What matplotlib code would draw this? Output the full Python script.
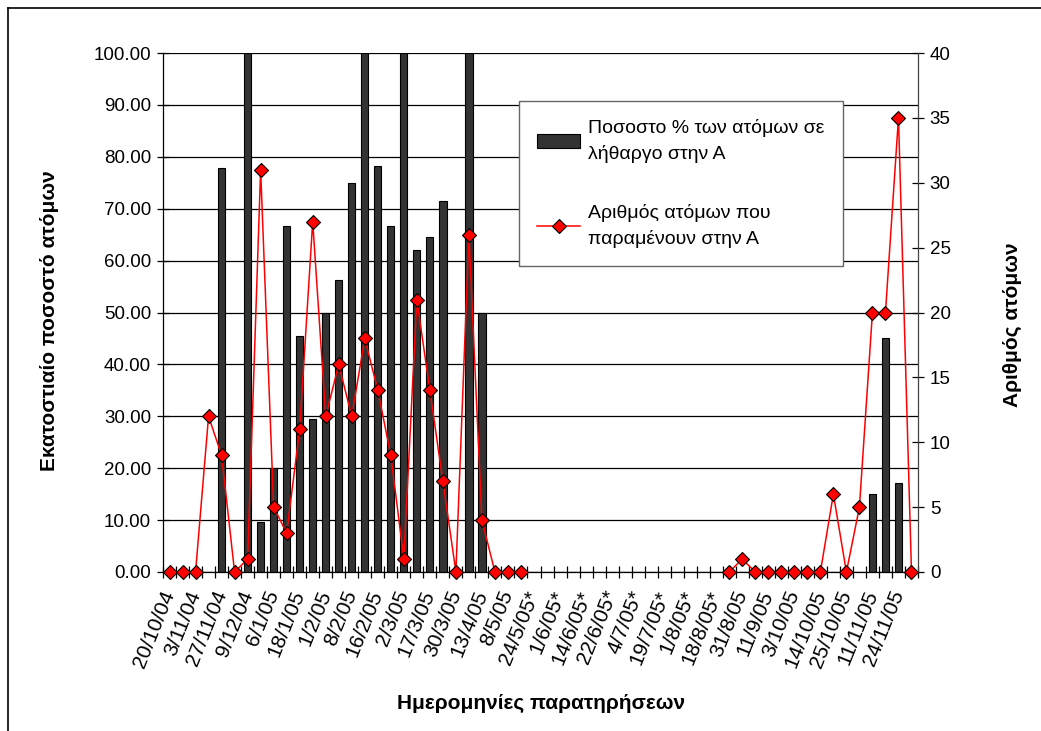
import numpy as np
import matplotlib.pyplot as plt
from matplotlib.lines import Line2D

plt.rcParams['font.family'] = ['Liberation Sans', 'DejaVu Sans']

nan = np.nan

# percentage of individuals in lethargy (left axis), one value per observation slot
percent_lethargy = [
    0, 0, 0, 0, 77.78, 0, 100, 9.68, 20, 66.67,
    45.45, 29.41, 50, 56.25, 75, 100, 78.26, 66.67, 100, 62,
    64.5, 71.43, 0, 100, 50, 0, 0, 0, nan, nan,
    nan, nan, nan, nan, nan, nan, nan, nan, nan, nan,
    nan, nan, nan, 0, 0, 0, 0, 0, 0, 0,
    0, 0, 0, 0, 15, 45, 17.14, 0,
]

# number of individuals remaining (right axis)
count_remaining = [
    0, 0, 0, 12, 9, 0, 1, 31, 5, 3,
    11, 27, 12, 16, 12, 18, 14, 9, 1, 21,
    14, 7, 0, 26, 4, 0, 0, 0, nan, nan,
    nan, nan, nan, nan, nan, nan, nan, nan, nan, nan,
    nan, nan, nan, 0, 1, 0, 0, 0, 0, 0,
    0, 6, 0, 5, 20, 20, 35, 0,
]

# dates shown under every second slot
date_labels = [
    '20/10/04', '3/11/04', '27/11/04', '9/12/04', '6/1/05', '18/1/05',
    '1/2/05', '8/2/05', '16/2/05', '2/3/05', '17/3/05', '30/3/05',
    '13/4/05', '8/5/05', '24/5/05*', '1/6/05*', '14/6/05*', '22/6/05*',
    '4/7/05*', '19/7/05*', '1/8/05*', '18/8/05*', '31/8/05', '11/9/05',
    '3/10/05', '14/10/05', '25/10/05', '11/11/05', '24/11/05',
]

n = len(percent_lethargy)
x = np.arange(n)

W, H = 1041, 731
fig = plt.figure(figsize=(W / 100, H / 100), dpi=100)
ax = fig.add_axes([163 / W, 1 - 572 / H, (918 - 163) / W, (572 - 53) / H])

ax.set_axisbelow(True)
ax.yaxis.grid(True, color='black', lw=0.9)
bars = ax.bar(x, np.nan_to_num(percent_lethargy), width=0.56,
              color='#333333', edgecolor='black', lw=0.8,
              label='Ποσοστο % των ατόμων σε\nλήθαργο στην Α')

ax.set_xlim(-0.5, n - 0.5)
ax.set_ylim(0, 100)
ax.set_yticks(np.arange(0, 101, 10))
ax.set_yticklabels([f'{v:.2f}' for v in np.arange(0, 101, 10)], fontsize=13.5)
ax.tick_params(axis='y', direction='inout', length=9, width=0.9, pad=4)

# tick marks on category boundaries, labels on every second category
ax.set_xticks(np.arange(-0.5, n, 1))
ax.set_xticklabels([])
ax.tick_params(axis='x', which='major', direction='inout', length=8, width=0.9)
ax.set_xticks(x[::2], minor=True)
ax.set_xticklabels(date_labels, minor=True, rotation=68, ha='right',
                   va='center', rotation_mode='anchor', fontsize=15)
ax.tick_params(axis='x', which='minor', length=0, pad=14)

for side in ('top', 'right'):
    ax.spines[side].set_visible(False)
ax.spines['left'].set_linewidth(0.9)
ax.spines['bottom'].set_linewidth(0.9)

ax2 = ax.twinx()
line, = ax2.plot(x, count_remaining, color='red', lw=1.1, marker='D',
                 markersize=7, markerfacecolor='red',
                 markeredgecolor='black', markeredgewidth=0.8,
                 clip_on=False, zorder=5,
                 label='Αριθμός ατόμων που\nπαραμένουν στην Α')
ax2.set_ylim(0, 40)
ax2.set_yticks(np.arange(0, 41, 5))
ax2.set_yticklabels([str(v) for v in range(0, 41, 5)], fontsize=13.5)
ax2.tick_params(axis='y', direction='inout', length=9, width=0.9, pad=4)
for side in ('top', 'left', 'bottom'):
    ax2.spines[side].set_visible(False)
ax2.spines['right'].set_color('#444444')
ax2.spines['right'].set_linewidth(0.9)

leg = ax2.legend(handles=[bars, line], loc='upper left',
                 bbox_to_anchor=(519 / W, 1 - 101 / H),
                 bbox_transform=fig.transFigure, fontsize=14,
                 frameon=True, fancybox=False, framealpha=1,
                 edgecolor='#666666', borderaxespad=0, borderpad=0.95,
                 handlelength=2.2, handletextpad=0.4, labelspacing=2.1)
leg.get_frame().set_linewidth(1.0)
for t in leg.get_texts():
    t.set_linespacing(1.55)

fig.text(50 / W, 1 - 321 / H, 'Εκατοστιαίο ποσοστό ατόμων', rotation=90,
         ha='center', va='center', fontsize=15, fontweight='bold')
fig.text(1012 / W, 1 - 325 / H, 'Αριθμός ατόμων', rotation=90,
         ha='center', va='center', fontsize=15, fontweight='bold')
fig.text(541 / W, 1 - 703 / H, 'Ημερομηνίες παρατηρήσεων',
         ha='center', va='center', fontsize=15, fontweight='bold')

# chart area border (left and top edges visible)
fig.add_artist(Line2D([8 / W, 8 / W], [0, 1 - 8 / H], color='black', lw=1.2,
                      transform=fig.transFigure))
fig.add_artist(Line2D([8 / W, 1], [1 - 8 / H, 1 - 8 / H], color='black',
                      lw=1.2, transform=fig.transFigure))

fig.savefig('out.png', dpi=100, facecolor='white')
